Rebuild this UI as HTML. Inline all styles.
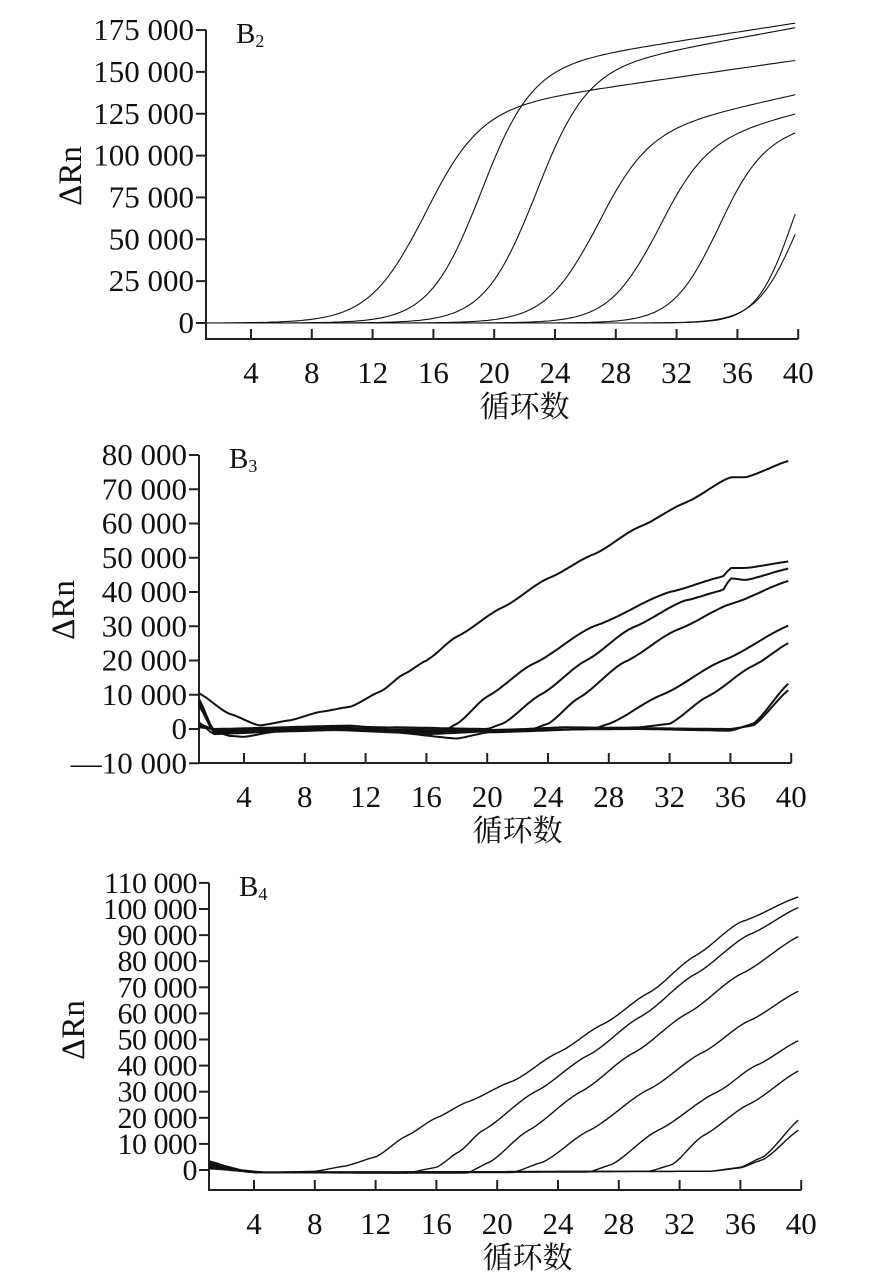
<!DOCTYPE html>
<html><head><meta charset="utf-8">
<style>
html,body{margin:0;padding:0;background:#fff;}
svg{display:block;}
text{font-family:"Liberation Serif","Noto Serif CJK SC",serif;fill:#111;}
</style></head>
<body>
<svg id="s" width="886" height="1273" viewBox="0 0 886 1273" xmlns="http://www.w3.org/2000/svg">
<g stroke="#222" stroke-width="2" fill="none" id="axes"></g>
<g id="txt" font-size="31"></g>
<g id="curves" fill="none" stroke="#111"></g>
</svg>
<script>
var NS="http://www.w3.org/2000/svg";
function el(p,t,a,txt){var e=document.createElementNS(NS,t);for(var k in a)e.setAttribute(k,a[k]);if(txt!==undefined)e.textContent=txt;document.getElementById(p).appendChild(e);return e;}
function chart(o){
 var X=function(c){return o.x4+(c-4)*15.2;};
 var Y=function(v){return o.y0-(v/o.step)*o.sp;};
 var xe=X(40);
 el("axes","path",{d:"M"+o.ax+" "+o.ytop+" V"+o.xb+" H"+xe});
 o.ticks.forEach(function(v){var y=Y(v);el("axes","path",{d:"M"+(o.ax-10)+" "+y+" H"+o.ax});
   el("txt","text",{x:o.ax-12,y:y+10,"text-anchor":"end","font-size":o.fs,"letter-spacing":o.ls||0},v<0?"\u2014"+fmt(-v):fmt(v));});
 for(var c=4;c<=40;c+=4){var x=X(c);el("axes","path",{d:"M"+x+" "+o.xb+" v-10"});
   el("txt","text",{x:x,y:o.xb+44,"text-anchor":"middle"},""+c);}
 el("txt","text",{x:X(22),y:o.xb+78,"text-anchor":"middle","font-size":"30"},"循环数");
 el("txt","text",{x:0,y:0,transform:"translate("+(o.ax-125)+","+o.ymid+") rotate(-90)","text-anchor":"middle","font-size":"33"},"ΔRn");
 var tt=el("txt","text",{x:o.ax+30,y:o.ytop+13,"font-size":"29"},"B");
 var ts=document.createElementNS(NS,"tspan");ts.setAttribute("font-size","18");ts.setAttribute("dy","4");ts.textContent=o.sub;tt.appendChild(ts);
 o.series.forEach(function(f){var pts=[];for(var c=1.05;c<=40.001;c+=0.25){pts.push(X(c).toFixed(1)+","+Y(f(c)).toFixed(1));}
   el("curves","polyline",{points:pts.join(" "),"stroke-width":o.sw});});
}
function fmt(v){var s=""+v;if(s.length>3)s=s.slice(0,s.length-3)+" "+s.slice(-3);return s;}
function lg(L,m,k,s){return function(c){return L/(1+Math.exp(-k*(c-m)))+s*Math.max(0,c-m)*(1/(1+Math.exp(-k*(c-m))));};}
function pw(p){return function(c){if(c<=p[0][0])return p[0][1];for(var i=1;i<p.length;i++){if(c<=p[i][0]){var a=p[i-1],b=p[i];var t=(c-a[0])/(b[0]-a[0]);t=t*t*(3-2*t)*0.3+t*0.7;return a[1]+(b[1]-a[1])*t;}}return p[p.length-1][1];};}
chart({x4:251,y0:323,step:25000,sp:41.85,ax:206,ytop:30,xb:339,ymid:176,sub:"2",sw:1.1,fs:31,
 ticks:[0,25000,50000,75000,100000,125000,150000,175000],
 series:[lg(125000,15.3,0.55,1300),lg(150000,19,0.6,1400),lg(148000,22.6,0.6,1650),lg(110000,26.6,0.6,2000),lg(105000,30.6,0.63,2200),lg(108000,34.6,0.68,1700),lg(120000,39.6,0.85,0),lg(110000,39.9,0.75,0)]});
chart({x4:244,y0:729,step:10000,sp:34.25,ax:199,ytop:455,xb:763,ymid:610,sub:"3",sw:2,fs:31,
 ticks:[-10000,0,10000,20000,30000,40000,50000,60000,70000,80000],
 series:[
 pw([[1,10500],[3,4500],[5,1000],[7,2500],[9,5000],[11,6500],[13,11000],[14.5,16000],[16,20000],[18,27000],[21,35500],[24,44000],[27,51000],[30,59000],[33,66000],[36,73500],[37,73500],[40,78500]]),
 pw([[1,9000],[2,-500],[6,0],[10,500],[14,-1000],[17,-1000],[18,1500],[20,9500],[23,19000],[27,30000],[32,40000],[35.5,44500],[36,47000],[37,47000],[40,49000]]),
 pw([[1,8000],[2,-1200],[8,-500],[14,500],[20,0],[21,1500],[23.5,10000],[26.5,20000],[29.5,29500],[33,37500],[35.5,40500],[36,44000],[37,43500],[40,47000]]),
 pw([[1,7000],[2,-800],[10,0],[16,-800],[23,0],[24,1500],[26,9000],[29,19500],[32.5,29000],[36,36500],[40,43500]]),
 pw([[1,2000],[2,-1500],[10,0],[20,-500],[27,0],[28,1500],[31.5,10000],[35.5,20000],[40,30500]]),
 pw([[1,1500],[3,-2000],[4,-2300],[6,-800],[10,-300],[14,-1000],[18,-2800],[20,-1000],[30,500],[32,1500],[34.5,9500],[37.5,18500],[40,25500]]),
 pw([[1,500],[3,-500],[10,800],[15,300],[20,-300],[30,0],[36,-500],[37.5,1500],[40,14000]]),
 pw([[1,1000],[2,0],[11,1000],[16,-1500],[25,500],[36,0],[37.5,1000],[40,12000]])]});
chart({x4:254,y0:1170,step:10000,sp:26.1,ax:209,ytop:883,xb:1190,ymid:1030,sub:"4",sw:1.4,fs:30,ls:-0.5,
 ticks:[0,10000,20000,30000,40000,50000,60000,70000,80000,90000,100000,110000],
 series:[
 pw([[1,3500],[3,0],[5,-1000],[8,-500],[10,1500],[12,5000],[14,13000],[16,20000],[18,26000],[21,34000],[24,45000],[27,56000],[30,68000],[33,82000],[36,95000],[40,105000]]),
 pw([[1,2500],[3,0],[5,-1000],[14,-1200],[16,1000],[17.5,7000],[19,15000],[22.5,30000],[26,44000],[29.5,59000],[33,75000],[36.5,90000],[40,101000]]),
 pw([[1,3000],[4,-1000],[18,-1200],[19.5,3000],[22,15000],[25.5,30000],[29,45000],[32.5,60000],[36,75000],[40,90000]]),
 pw([[1,2000],[4,-1000],[21,-1000],[23,3000],[26,15000],[30,31000],[33.5,45000],[36.5,57000],[40,69000]]),
 pw([[1,1500],[4,-1000],[26,-800],[27.5,2000],[30.5,15000],[34.5,30000],[37,40000],[40,50000]]),
 pw([[1,1000],[4,-1000],[30,-500],[31.5,2000],[33.5,13000],[36.5,25000],[40,38500]]),
 pw([[1,800],[4,-800],[34,-500],[36,1000],[37.5,5000],[40,20000]]),
 pw([[1,500],[4,-800],[34,-500],[36,800],[37.5,4000],[40,16000]])]});
</script>
</body></html>
